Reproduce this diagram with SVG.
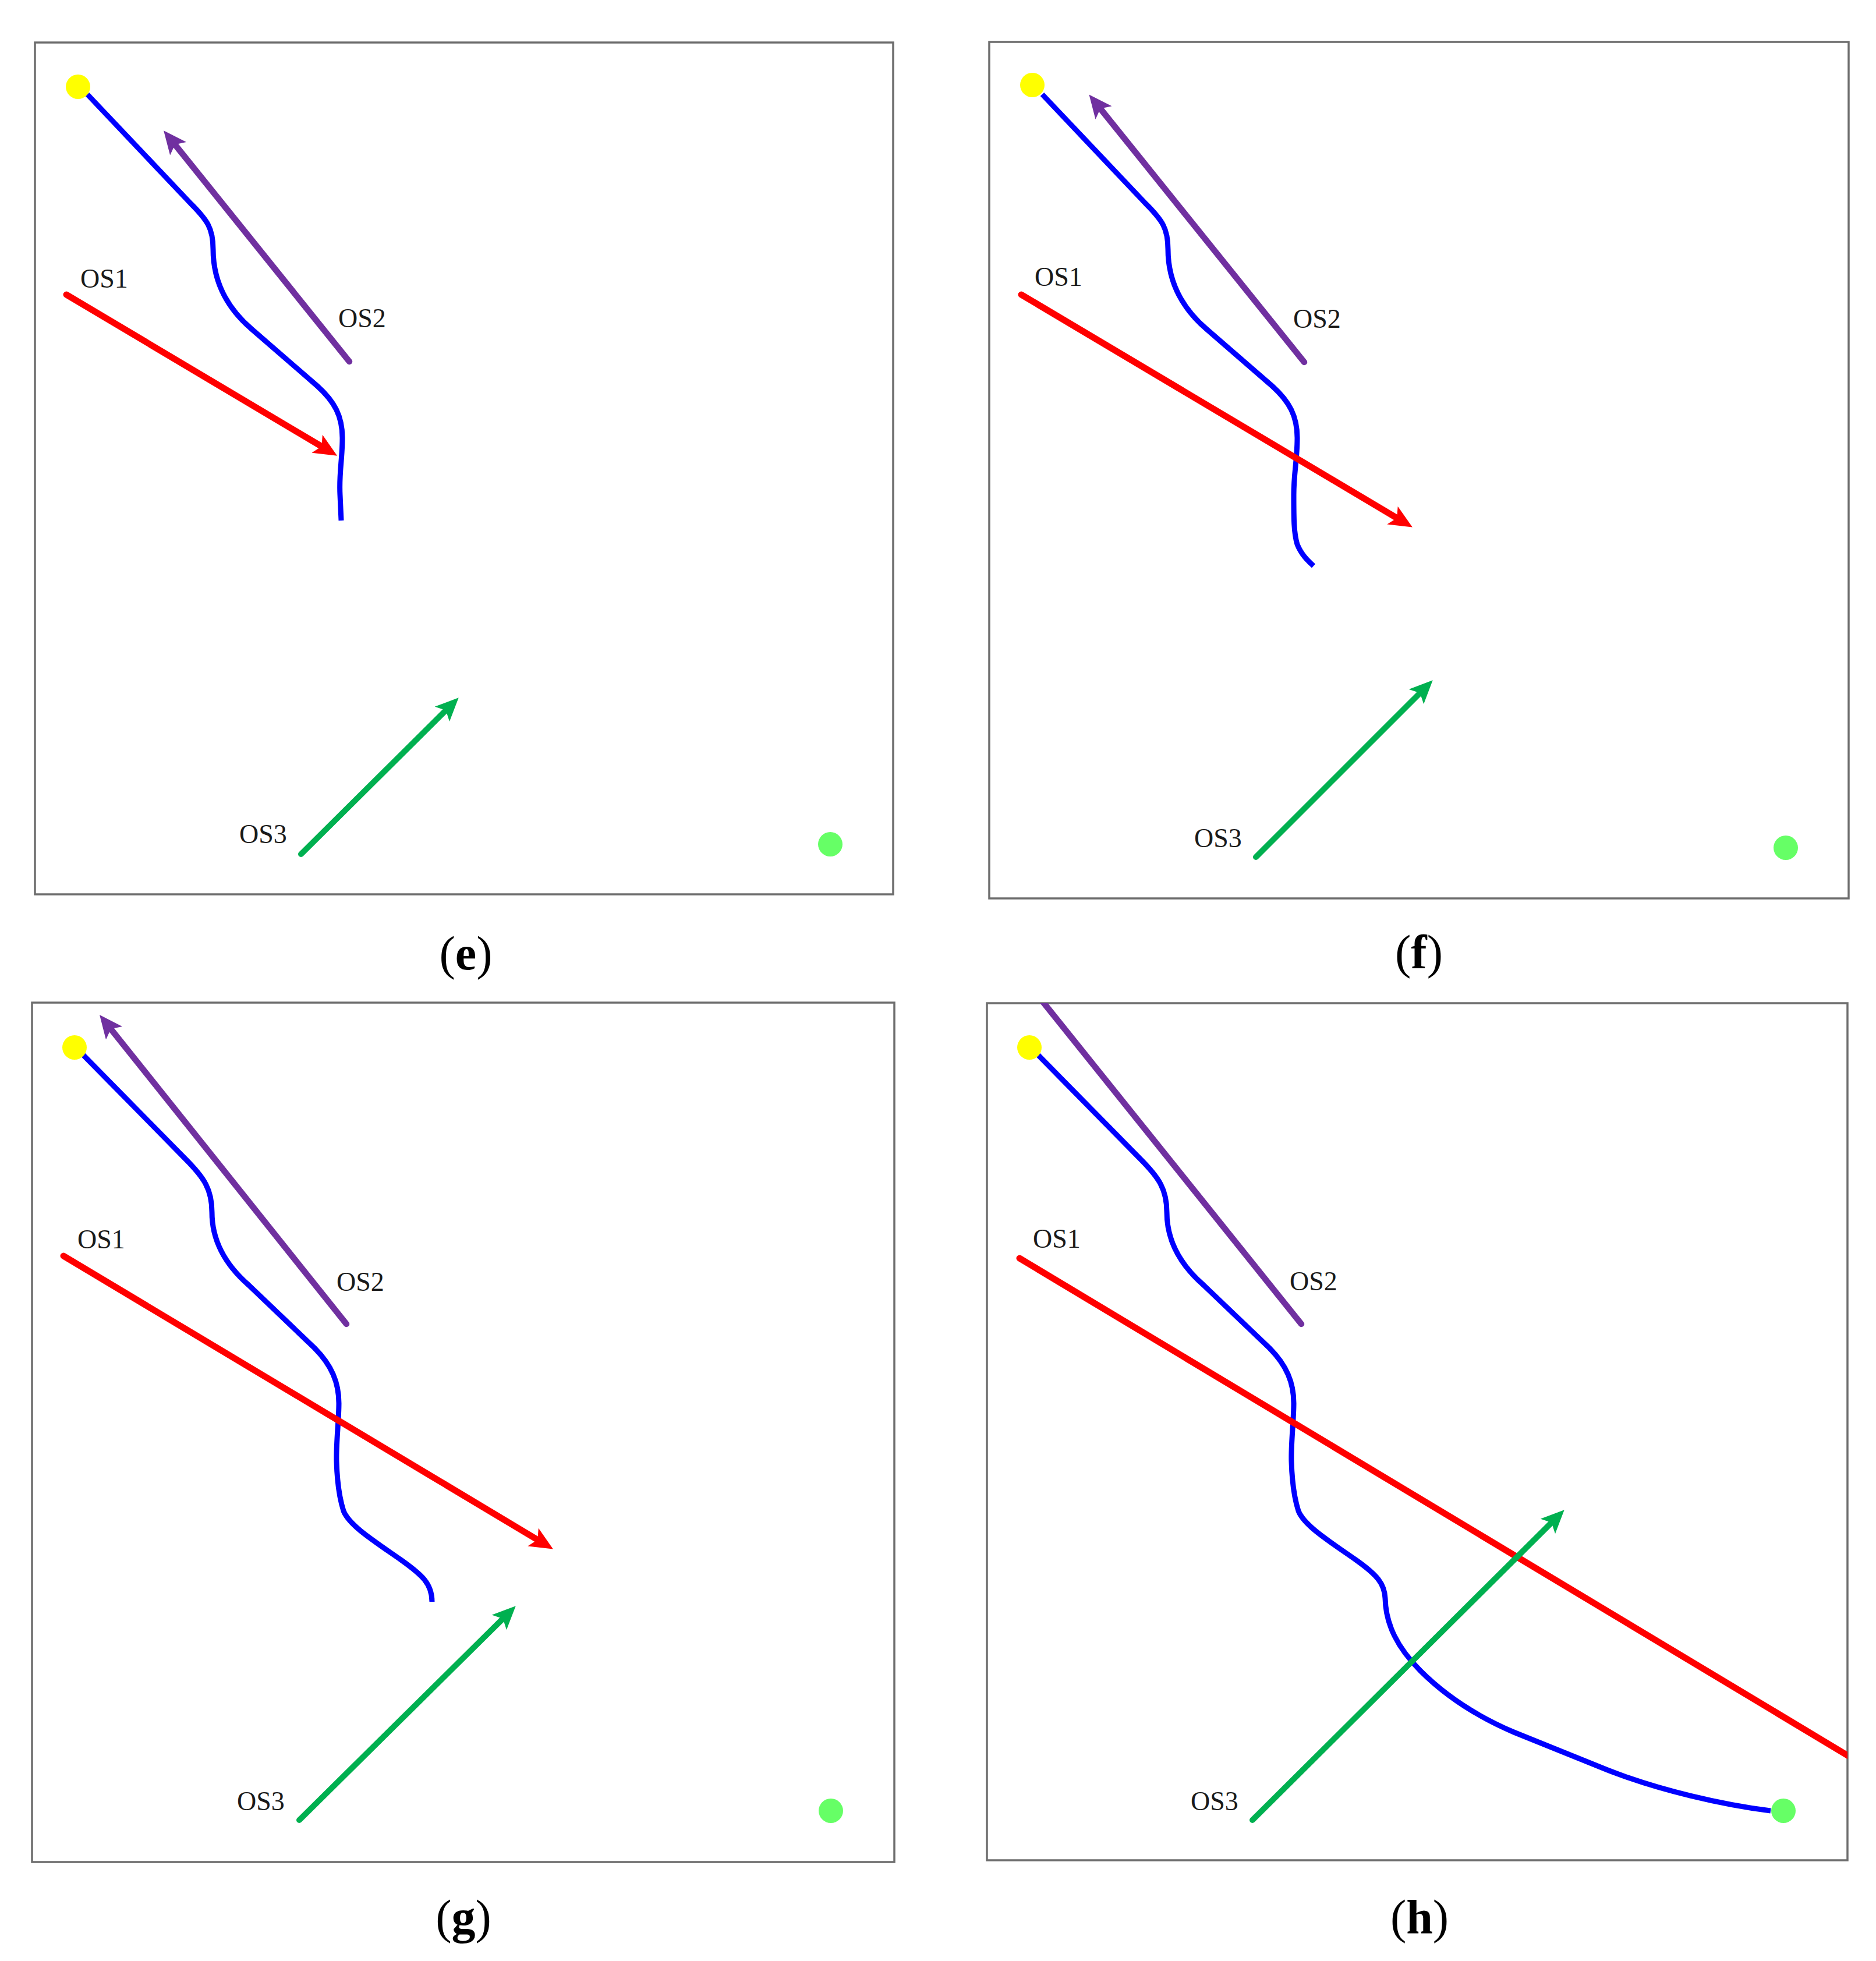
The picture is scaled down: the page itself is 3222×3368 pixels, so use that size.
<svg xmlns="http://www.w3.org/2000/svg" width="3222" height="3368" viewBox="0 0 3222 3368">
<style>
.frame{fill:#ffffff;stroke:#6e6e6e;stroke-width:3.5}
.path{fill:none;stroke:#0000ff;stroke-width:9;stroke-linecap:butt;stroke-linejoin:round}
.os1{fill:none;stroke:#ff0000;stroke-width:11;stroke-linecap:round}
.os2{fill:none;stroke:#7030a0;stroke-width:10.5;stroke-linecap:round}
.os3{fill:none;stroke:#00b050;stroke-width:10;stroke-linecap:round}
.start{fill:#ffff00}
.goal{fill:#66ff66}
.lbl{font-family:"Liberation Serif","Times New Roman",serif;font-size:46px;fill:#1a1a1a}
.cap{font-family:"Liberation Serif","Times New Roman",serif;font-size:82px;fill:#000;text-anchor:middle}
.b{font-weight:bold}
</style>
<defs>
<marker id="arR" viewBox="0 0 40 36" markerWidth="40" markerHeight="36" refX="9" refY="18" orient="auto" markerUnits="userSpaceOnUse"><path d="M0,0 L40,18 L0,36 L9,18 Z" fill="#ff0000"/></marker>
<marker id="arP" viewBox="0 0 40 36" markerWidth="40" markerHeight="36" refX="9" refY="18" orient="auto" markerUnits="userSpaceOnUse"><path d="M0,0 L40,18 L0,36 L9,18 Z" fill="#7030a0"/></marker>
<marker id="arG" viewBox="0 0 40 36" markerWidth="40" markerHeight="36" refX="9" refY="18" orient="auto" markerUnits="userSpaceOnUse"><path d="M0,0 L40,18 L0,36 L9,18 Z" fill="#00b050"/></marker>
<clipPath id="clipH"><rect x="1695" y="1723" width="1478" height="1472"/></clipPath>
</defs>
<rect width="3222" height="3368" fill="#ffffff"/>

<!-- Panel e -->
<g id="panel-e">
<rect class="frame" x="60" y="73" width="1474" height="1463"/>
<g id="connectors-e">
<path class="path" d="M150,162 L328,350 C356,378 366,392 366,428 C366,475 382,522 432,565 L545,663 C575,690 588,715 588,752 C588,790 582,812 584,850 L586,894"/>
<line class="os1" x1="114" y1="506" x2="552.4" y2="766.8" marker-end="url(#arR)"/>
<line class="os2" x1="600" y1="621" x2="300.5" y2="248.3" marker-end="url(#arP)"/>
<line class="os3" x1="517" y1="1467" x2="765.7" y2="1220.1" marker-end="url(#arG)"/>
</g>
<circle id="start-e" class="start" cx="134" cy="149" r="21"/>
<circle id="goal-e" class="goal" cx="1426" cy="1450" r="21"/>
<text class="lbl" x="138" y="494">OS1</text>
<text class="lbl" x="581" y="562">OS2</text>
<text class="lbl" x="411" y="1448">OS3</text>
<text class="cap" x="800" y="1665">(<tspan class="b">e</tspan>)</text>
</g>

<!-- Panel f -->
<g id="panel-f">
<rect class="frame" x="1699" y="72" width="1476" height="1471"/>
<g id="connectors-f">
<path class="path" d="M1790,162 L1968,350 C1996,378 2006,392 2006,428 C2006,475 2022,522 2072,565 L2185,663 C2215,690 2228,715 2228,752 C2228,790 2222,812 2222,850 C2222,890 2222,915 2228,935 C2235,952 2245,962 2256,972"/>
<line class="os1" x1="1754" y1="506" x2="2399.2" y2="889.7" marker-end="url(#arR)"/>
<line class="os2" x1="2240" y1="622" x2="1889.9" y2="186.6" marker-end="url(#arP)"/>
<line class="os3" x1="2157" y1="1472" x2="2438.8" y2="1190.2" marker-end="url(#arG)"/>
</g>
<circle id="start-f" class="start" cx="1773" cy="146" r="21"/>
<circle id="goal-f" class="goal" cx="3067" cy="1456" r="21"/>
<text class="lbl" x="1777" y="491">OS1</text>
<text class="lbl" x="2221" y="563">OS2</text>
<text class="lbl" x="2051" y="1455">OS3</text>
<text class="cap" x="2437" y="1663">(<tspan class="b">f</tspan>)</text>
</g>

<!-- Panel g -->
<g id="panel-g">
<rect class="frame" x="55" y="1722" width="1481" height="1476"/>
<g id="connectors-g">
<path class="path" d="M143,1812 L318,1990 C350,2022 364,2042 364,2082 C364,2132 387,2172 427,2207 L540,2315 C570,2345 582,2375 582,2410 C582,2440 577,2480 578,2510 C579,2545 582,2570 590,2595 C600,2620 640,2645 690,2680 C725,2705 742,2720 742,2751"/>
<line class="os1" x1="109" y1="2157" x2="923.3" y2="2644.6" marker-end="url(#arR)"/>
<line class="os2" x1="595" y1="2274" x2="190.4" y2="1767.3" marker-end="url(#arP)"/>
<line class="os3" x1="514" y1="3126" x2="863.7" y2="2780.1" marker-end="url(#arG)"/>
</g>
<circle id="start-g" class="start" cx="128" cy="1799" r="21"/>
<circle id="goal-g" class="goal" cx="1427" cy="3110" r="21"/>
<text class="lbl" x="133" y="2144">OS1</text>
<text class="lbl" x="578" y="2217">OS2</text>
<text class="lbl" x="407" y="3109">OS3</text>
<text class="cap" x="796" y="3320">(<tspan class="b">g</tspan>)</text>
</g>

<!-- Panel h -->
<g id="panel-h">
<rect class="frame" x="1695" y="1723" width="1478" height="1472"/>
<g id="connectors-h">
<path class="path" d="M1783,1812 L1958,1990 C1990,2022 2004,2042 2004,2082 C2004,2132 2027,2172 2067,2207 L2180,2315 C2210,2345 2222,2375 2222,2410 C2222,2440 2217,2480 2218,2510 C2219,2545 2222,2570 2230,2595 C2240,2620 2280,2645 2330,2680 C2365,2705 2378,2720 2379,2745 C2380,2790 2400,2830 2440,2870 C2480,2910 2530,2945 2600,2975 L2761,3040 C2850,3075 2960,3100 3041,3110"/>
<g clip-path="url(#clipH)">
<line class="os1" x1="1751" y1="2161" x2="3185" y2="3022"/>
<line class="os2" x1="2235" y1="2274" x2="1785" y2="1713"/>
</g>
<line class="os3" x1="2151" y1="3126" x2="2664.7" y2="2615.1" marker-end="url(#arG)"/>
</g>
<circle id="start-h" class="start" cx="1768" cy="1799" r="21"/>
<circle id="goal-h" class="goal" cx="3063" cy="3110" r="21"/>
<text class="lbl" x="1774" y="2143">OS1</text>
<text class="lbl" x="2215" y="2216">OS2</text>
<text class="lbl" x="2045" y="3109">OS3</text>
<text class="cap" x="2438" y="3320">(<tspan class="b">h</tspan>)</text>
</g>
</svg>
